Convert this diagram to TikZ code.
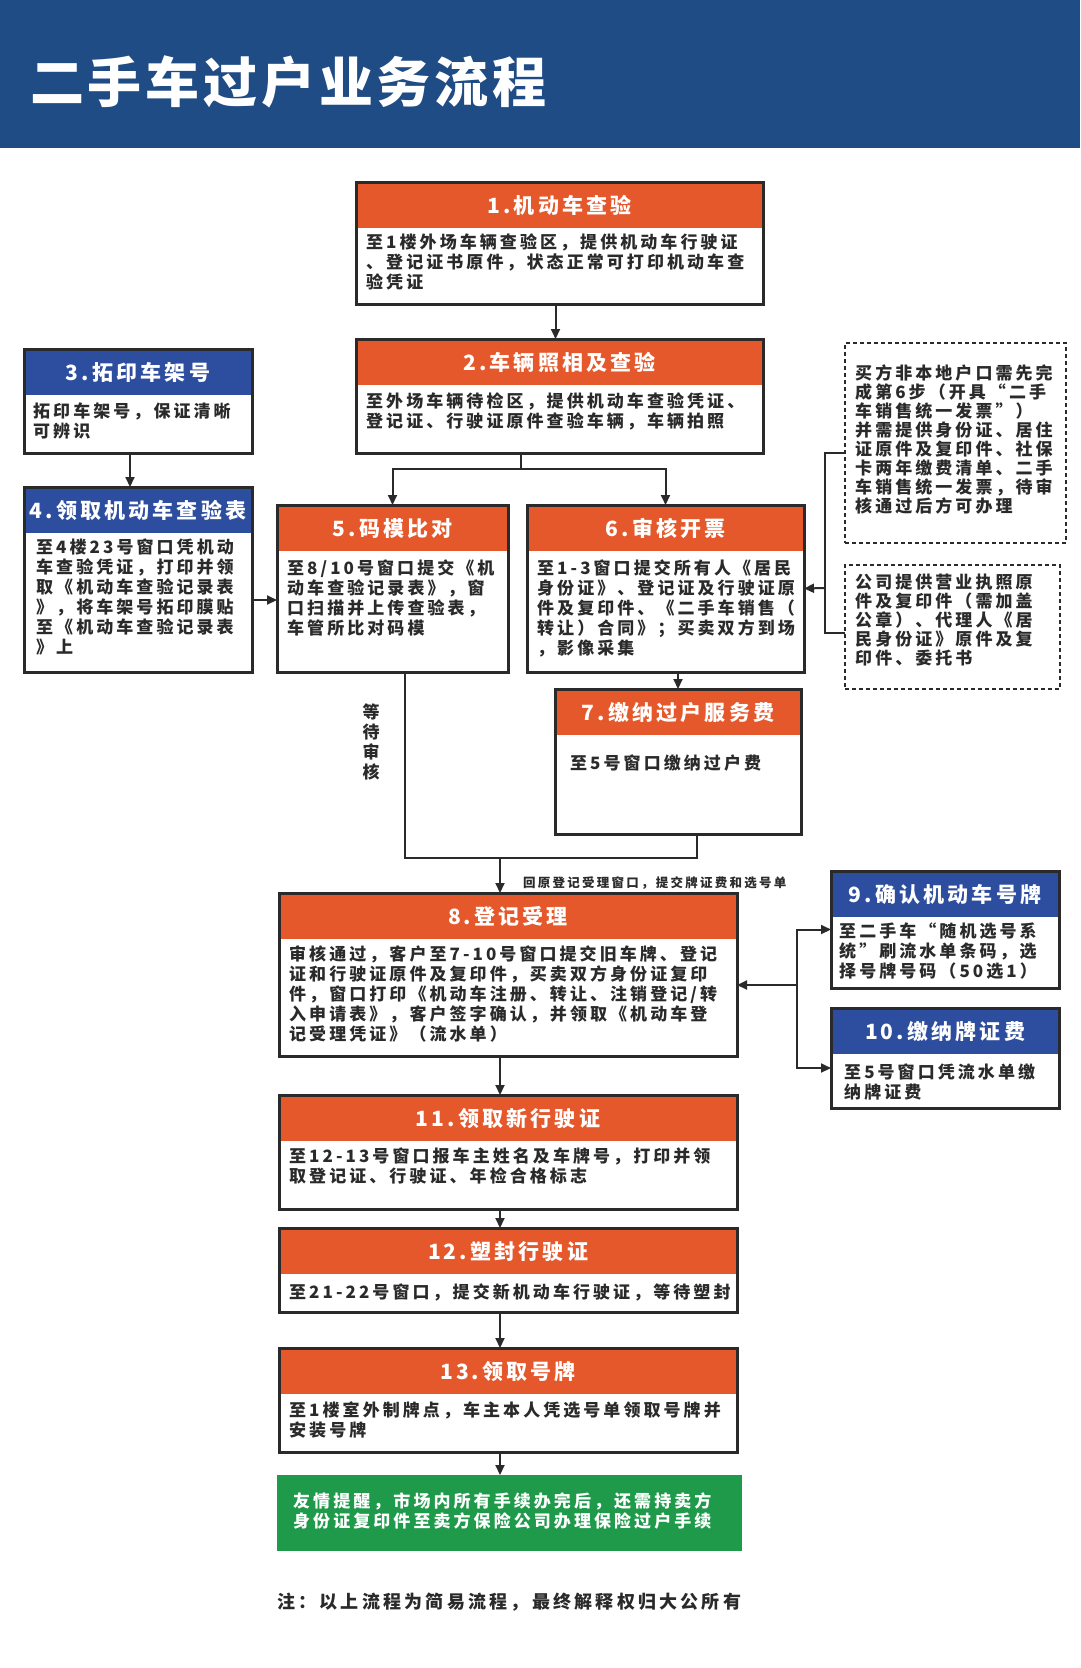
\documentclass[tikz,border=0pt]{standalone}
\usepackage{fontspec}
\setmainfont{Noto Sans CJK SC}
\newfontfamily\bodyfont{Noto Sans CJK SC}[LetterSpace=18]
\newfontfamily\headfont{Noto Sans CJK SC}[LetterSpace=15]
\newfontfamily\titlefont{Noto Sans CJK SC}[LetterSpace=7]
\usetikzlibrary{arrows.meta}
\definecolor{banner}{HTML}{1F4C84}
\definecolor{stepred}{HTML}{E5582B}
\definecolor{stepblue}{HTML}{2D4D9F}
\definecolor{tipgreen}{HTML}{1E9A4A}
\definecolor{ink}{HTML}{2A2A2A}
\tikzset{
	stepbox/.style={draw=ink, line width=3pt, fill=white, anchor=north west, inner sep=0pt, outer sep=0pt},
	headbar/.style={fill=#1, anchor=north west, minimum height=44.5pt, inner sep=0pt, outer sep=0pt, text=white, font=\headfont\bfseries\fontsize{21}{24}\selectfont},
	bodytext/.style={anchor=north west, inner sep=0pt, align=left, text=ink, font=\bodyfont\bfseries\fontsize{17}{20}\selectfont},
	notebox/.style={draw=ink, line width=2.5pt, dash pattern=on 4pt off 3pt, anchor=north west, inner sep=0pt, outer sep=0pt},
	arr/.style={draw=ink, line width=2pt, -{Triangle[length=10pt,width=9pt]}},
	link/.style={draw=ink, line width=2pt},
}
\begin{document}
	\begin{tikzpicture}[x=1pt, y=-1pt]
		\useasboundingbox (0,0) rectangle (1080,1668);

		% шапка
		\fill [banner] (0,0) rectangle (1080,148);
		\node [anchor=west, inner sep=0pt, text=white, font=\titlefont\bfseries\fontsize{54}{60}\selectfont] (title) at (30,82) {二手车过户业务流程};

		% шаг 1
		\node [stepbox, minimum width=407pt, minimum height=122pt] (s1) at (356,182) {};
		\node [headbar=stepred, minimum width=404pt] (s1t) at ([xshift=1.5pt,yshift=-1.5pt]s1.north west) {1.机动车查验};
		\node [bodytext] (s1x) at ([xshift=10pt,yshift=-52pt]s1.north west) {至1楼外场车辆查验区，提供机动车行驶证\\、登记证书原件，状态正常可打印机动车查\\验凭证};

		% шаг 2
		\node [stepbox, minimum width=407pt, minimum height=114pt] (s2) at (356,339) {};
		\node [headbar=stepred, minimum width=404pt] (s2t) at ([xshift=1.5pt,yshift=-1.5pt]s2.north west) {2.车辆照相及查验};
		\node [bodytext] (s2x) at ([xshift=10pt,yshift=-54pt]s2.north west) {至外场车辆待检区，提供机动车查验凭证、\\登记证、行驶证原件查验车辆，车辆拍照};

		% шаг 3
		\node [stepbox, minimum width=228pt, minimum height=104pt] (s3) at (24,349) {};
		\node [headbar=stepblue, minimum width=225pt] (s3t) at ([xshift=1.5pt,yshift=-1.5pt]s3.north west) {3.拓印车架号};
		\node [bodytext] (s3x) at ([xshift=9pt,yshift=-54pt]s3.north west) {拓印车架号，保证清晰\\可辨识};

		% шаг 4
		\node [stepbox, minimum width=228pt, minimum height=185pt] (s4) at (24,487) {};
		\node [headbar=stepblue, minimum width=225pt] (s4t) at ([xshift=1.5pt,yshift=-1.5pt]s4.north west) {4.领取机动车查验表};
		\node [bodytext] (s4x) at ([xshift=12pt,yshift=-52pt]s4.north west) {至4楼23号窗口凭机动\\车查验凭证，打印并领\\取《机动车查验记录表\\》，将车架号拓印膜贴\\至《机动车查验记录表\\》上};

		% шаг 5
		\node [stepbox, minimum width=231pt, minimum height=167pt] (s5) at (277,505) {};
		\node [headbar=stepred, minimum width=228pt] (s5t) at ([xshift=1.5pt,yshift=-1.5pt]s5.north west) {5.码模比对};
		\node [bodytext] (s5x) at ([xshift=10pt,yshift=-55pt]s5.north west) {至8/10号窗口提交《机\\动车查验记录表》，窗\\口扫描并上传查验表，\\车管所比对码模};

		% шаг 6
		\node [stepbox, minimum width=277pt, minimum height=167pt] (s6) at (527,505) {};
		\node [headbar=stepred, minimum width=274pt] (s6t) at ([xshift=1.5pt,yshift=-1.5pt]s6.north west) {6.审核开票};
		\node [bodytext] (s6x) at ([xshift=10pt,yshift=-55pt]s6.north west) {至1-3窗口提交所有人《居民\\身份证》、登记证及行驶证原\\件及复印件、《二手车销售（\\转让）合同》；买卖双方到场\\，影像采集};

		% шаг 7
		\node [stepbox, minimum width=246pt, minimum height=145pt] (s7) at (555,689) {};
		\node [headbar=stepred, minimum width=243pt] (s7t) at ([xshift=1.5pt,yshift=-1.5pt]s7.north west) {7.缴纳过户服务费};
		\node [bodytext] (s7x) at ([xshift=15pt,yshift=-66pt]s7.north west) {至5号窗口缴纳过户费};

		% примечания к шагу 6
		\node [notebox, minimum width=221pt, minimum height=200pt] (nA) at (845,343) {};
		\node [bodytext, font=\bodyfont\bfseries\fontsize{17}{19}\selectfont] (nAx) at ([xshift=10pt,yshift=-21pt]nA.north west) {买方非本地户口需先完\\成第6步（开具“二手\\车销售统一发票”）\\并需提供身份证、居住\\证原件及复印件、社保\\卡两年缴费清单、二手\\车销售统一发票，待审\\核通过后方可办理};
		\node [notebox, minimum width=215pt, minimum height=124pt] (nB) at (845,565) {};
		\node [bodytext, font=\bodyfont\bfseries\fontsize{17}{19}\selectfont] (nBx) at ([xshift=10pt,yshift=-9pt]nB.north west) {公司提供营业执照原\\件及复印件（需加盖\\公章）、代理人《居\\民身份证》原件及复\\印件、委托书};

		% подписи
		\node [text=ink, align=center, inner sep=0pt, font=\bodyfont\bfseries\fontsize{17}{20}\selectfont] (wait) at (371,742) {等\\待\\审\\核};
		\node [anchor=west, inner sep=0pt, text=ink, font=\bodyfont\bfseries\fontsize{12.5}{16}\selectfont] (back) at (523,883) {回原登记受理窗口，提交牌证费和选号单};

		% шаг 8
		\node [stepbox, minimum width=458pt, minimum height=163pt] (s8) at (279,893) {};
		\node [headbar=stepred, minimum width=455pt] (s8t) at ([xshift=1.5pt,yshift=-1.5pt]s8.north west) {8.登记受理};
		\node [bodytext] (s8x) at ([xshift=10pt,yshift=-52pt]s8.north west) {审核通过，客户至7-10号窗口提交旧车牌、登记\\证和行驶证原件及复印件，买卖双方身份证复印\\件，窗口打印《机动车注册、转让、注销登记/转\\入申请表》，客户签字确认，并领取《机动车登\\记受理凭证》（流水单）};

		% шаг 9
		\node [stepbox, minimum width=228pt, minimum height=117pt] (s9) at (831,871) {};
		\node [headbar=stepblue, minimum width=225pt] (s9t) at ([xshift=1.5pt,yshift=-1.5pt]s9.north west) {9.确认机动车号牌};
		\node [bodytext] (s9x) at ([xshift=8pt,yshift=-52pt]s9.north west) {至二手车“随机选号系\\统”刷流水单条码，选\\择号牌号码（50选1）};

		% шаг 10
		\node [stepbox, minimum width=228pt, minimum height=100pt] (s10) at (831,1008) {};
		\node [headbar=stepblue, minimum width=225pt] (s10t) at ([xshift=1.5pt,yshift=-1.5pt]s10.north west) {10.缴纳牌证费};
		\node [bodytext] (s10x) at ([xshift=13pt,yshift=-56pt]s10.north west) {至5号窗口凭流水单缴\\纳牌证费};

		% шаг 11
		\node [stepbox, minimum width=458pt, minimum height=114pt] (s11) at (279,1095) {};
		\node [headbar=stepred, minimum width=455pt] (s11t) at ([xshift=1.5pt,yshift=-1.5pt]s11.north west) {11.领取新行驶证};
		\node [bodytext] (s11x) at ([xshift=10pt,yshift=-53pt]s11.north west) {至12-13号窗口报车主姓名及车牌号，打印并领\\取登记证、行驶证、年检合格标志};

		% шаг 12
		\node [stepbox, minimum width=458pt, minimum height=84pt] (s12) at (279,1228) {};
		\node [headbar=stepred, minimum width=455pt] (s12t) at ([xshift=1.5pt,yshift=-1.5pt]s12.north west) {12.塑封行驶证};
		\node [bodytext] (s12x) at ([xshift=10pt,yshift=-56pt]s12.north west) {至21-22号窗口，提交新机动车行驶证，等待塑封};

		% шаг 13
		\node [stepbox, minimum width=458pt, minimum height=104pt] (s13) at (279,1348) {};
		\node [headbar=stepred, minimum width=455pt] (s13t) at ([xshift=1.5pt,yshift=-1.5pt]s13.north west) {13.领取号牌};
		\node [bodytext] (s13x) at ([xshift=10pt,yshift=-53pt]s13.north west) {至1楼室外制牌点，车主本人凭选号单领取号牌并\\安装号牌};

		% напоминание и сноска
		\node [fill=tipgreen, anchor=north west, inner sep=0pt, outer sep=0pt, minimum width=465pt, minimum height=76pt] (tip) at (277,1475) {};
		\node [bodytext, text=white] (tipx) at ([xshift=16pt,yshift=-17pt]tip.north west) {友情提醒，市场内所有手续办完后，还需持卖方\\身份证复印件至卖方保险公司办理保险过户手续};
		\node [anchor=west, inner sep=0pt, text=ink, font=\bodyfont\bfseries\fontsize{18}{20}\selectfont] (foot) at (277,1602) {注：以上流程为简易流程，最终解释权归大公所有};

		% связи
		\draw [arr] ([xshift=-4pt]s1.south) -- ([xshift=-4pt]s2.north);
		\coordinate (sp) at (521,469);
		\draw [link] (s2.south -| sp) -- (sp);
		\draw [arr] (sp) -| (s5.north);
		\draw [arr] (sp) -| (s6.north);
		\draw [arr] ([xshift=-8pt]s3.south) -- ([xshift=-8pt]s4.north);
		\coordinate (j45) at (264,600);
		\draw [arr] (s4.east |- j45) -- (s5.west |- j45);
		\coordinate (br6) at (825,588);
		\coordinate (nAw) at ([yshift=-10pt]nA.west);
		\coordinate (nBw) at ([yshift=-6pt]nB.west);
		\draw [link] (nAw) -| (br6) |- (nBw);
		\draw [arr] (br6) -- (s6.east);
		\draw [arr] (s7.north |- s6.south) -- (s7.north);
		\coordinate (m8) at (500,858);
		\coordinate (s5o) at ([xshift=12pt]s5.south);
		\coordinate (s7o) at ([xshift=19pt]s7.south);
		\draw [link] (s5o) |- (m8 -| s7o) -- (s7o);
		\draw [arr] (m8) -- (s8.north -| m8);
		\coordinate (b9) at (797,985);
		\coordinate (s10w) at ([yshift=-10pt]s10.west);
		\draw [arr] (b9) -- (s8.east |- b9);
		\draw [arr] (b9) |- (s9.west);
		\draw [arr] (b9) |- (s10w);
		\draw [arr] (s8.south -| m8) -- (s11.north -| m8);
		\draw [arr] (s11.south -| m8) -- (s12.north -| m8);
		\draw [arr] (s12.south -| m8) -- (s13.north -| m8);
		\draw [arr] (s13.south -| m8) -- (tip.north -| m8);
	\end{tikzpicture}
\end{document}
